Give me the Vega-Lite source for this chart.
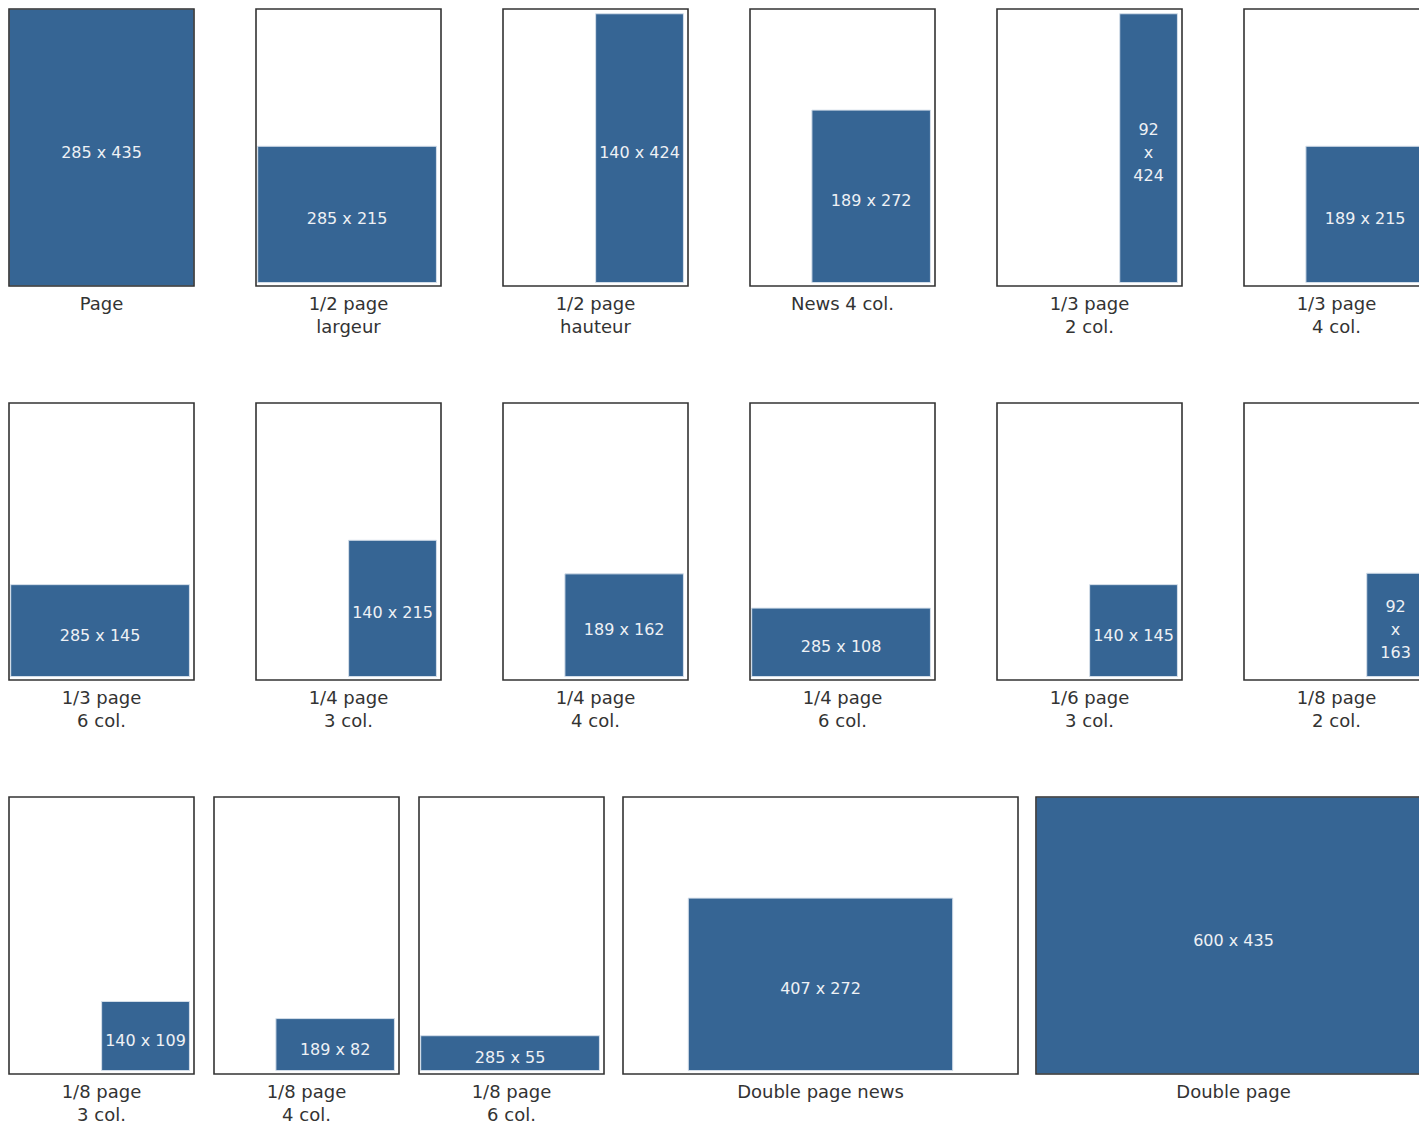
{
  "$schema": "https://vega.github.io/schema/vega-lite/v6.json",
  "background": "white",
  "padding": {"left": 8, "top": 8, "right": 0, "bottom": 0},
  "config": {"view": {"stroke": null}, "font": "DejaVu Sans", "text": {"lineBreak": "\n"}, "headerFacet": {"labels": false, "title": null, "labelPadding": 0, "titlePadding": 0, "labelFontSize": 0}},
  "datasets": {
    "ads": [
      {"i": 1, "grp": "A", "caption": "Page", "w": 285, "h": 435, "label": "285 x 435"},
      {"i": 2, "grp": "A", "caption": "1/2 page\nlargeur", "w": 285, "h": 215, "label": "285 x 215"},
      {"i": 3, "grp": "A", "caption": "1/2 page\nhauteur", "w": 140, "h": 424, "label": "140 x 424"},
      {"i": 4, "grp": "A", "caption": "News 4 col.", "w": 189, "h": 272, "label": "189 x 272"},
      {"i": 5, "grp": "A", "caption": "1/3 page\n2 col.", "w": 92, "h": 424, "label": "92\nx\n424"},
      {"i": 6, "grp": "A", "caption": "1/3 page\n4 col.", "w": 189, "h": 215, "label": "189 x 215"},
      {"i": 7, "grp": "A", "caption": "1/3 page\n6 col.", "w": 285, "h": 145, "label": "285 x 145"},
      {"i": 8, "grp": "A", "caption": "1/4 page\n3 col.", "w": 140, "h": 215, "label": "140 x 215"},
      {"i": 9, "grp": "A", "caption": "1/4 page\n4 col.", "w": 189, "h": 162, "label": "189 x 162"},
      {"i": 10, "grp": "A", "caption": "1/4 page\n6 col.", "w": 285, "h": 108, "label": "285 x 108"},
      {"i": 11, "grp": "A", "caption": "1/6 page\n3 col.", "w": 140, "h": 145, "label": "140 x 145"},
      {"i": 12, "grp": "A", "caption": "1/8 page\n2 col.", "w": 92, "h": 163, "label": "92\nx\n163"},
      {"i": 13, "grp": "B", "caption": "1/8 page\n3 col.", "w": 140, "h": 109, "label": "140 x 109"},
      {"i": 14, "grp": "B", "caption": "1/8 page\n4 col.", "w": 189, "h": 82, "label": "189 x 82"},
      {"i": 15, "grp": "B", "caption": "1/8 page\n6 col.", "w": 285, "h": 55, "label": "285 x 55"},
      {"i": 16, "grp": "C", "caption": "Double page news", "w": 407, "h": 272, "label": "407 x 272"},
      {"i": 17, "grp": "C", "caption": "Double page", "w": 600, "h": 435, "label": "600 x 435"}
    ]
  },
  "spacing": 63,
  "vconcat": [
    {
      "data": {"name": "ads"},
      "transform": [
        {"filter": "datum.grp == 'A'"},
        {"calculate": "datum.w >= 285 && datum.h >= 435", "as": "full"},
        {"calculate": "datum.full ? 0 : 287.7 - datum.w", "as": "x0"},
        {"calculate": "datum.full ? 295 : 287.7", "as": "x1"},
        {"calculate": "datum.full ? 0 : 5.5", "as": "y0"},
        {"calculate": "datum.full ? 437 : 5.5 + datum.h", "as": "y1"},
        {"calculate": "(datum.x0 + datum.x1) / 2", "as": "cx"},
        {"calculate": "(datum.y0 + datum.y1) / 2 + (length(split(datum.label, '\\n')) - 1) * 18.1", "as": "cy"}
      ],
      "facet": {"field": "i", "type": "ordinal", "title": null, "header": {"labels": false, "labelExpr": "''", "labelFontSize": 0, "labelPadding": 0, "title": null, "titlePadding": 0}},
      "columns": 6,
      "spacing": {"row": 63, "column": 60},
      "spec": {
        "width": 185,
        "height": 330,
        "layer": [
          {
            "mark": {"type": "rect", "fill": "#366594", "stroke": "#d5dfea", "strokeWidth": 1},
            "encoding": {
              "x": {"field": "x0", "type": "quantitative", "scale": {"domain": [0, 295], "nice": false, "zero": false}, "axis": null},
              "x2": {"field": "x1"},
              "y": {"field": "y0", "type": "quantitative", "scale": {"domain": [-83.5, 437], "nice": false, "zero": false}, "axis": null},
              "y2": {"field": "y1"}
            }
          },
          {
            "mark": {"type": "text", "color": "#eef1f5", "fontSize": 16, "baseline": "middle", "align": "center", "dy": 5, "lineHeight": 23},
            "encoding": {
              "x": {"field": "cx", "type": "quantitative", "scale": {"domain": [0, 295], "nice": false, "zero": false}, "axis": null},
              "y": {"field": "cy", "type": "quantitative", "scale": {"domain": [-83.5, 437], "nice": false, "zero": false}, "axis": null},
              "text": {"field": "label"}
            }
          },
          {
            "mark": {"type": "rect", "fill": "transparent", "stroke": "#333333", "strokeWidth": 1.6},
            "encoding": {
              "x": {"datum": 0, "type": "quantitative", "scale": {"domain": [0, 295], "nice": false, "zero": false}, "axis": null},
              "x2": {"datum": 295},
              "y": {"datum": 0, "type": "quantitative", "scale": {"domain": [-83.5, 437], "nice": false, "zero": false}, "axis": null},
              "y2": {"datum": 437}
            }
          },
          {
            "mark": {"type": "text", "color": "#333333", "fontSize": 18, "baseline": "top", "align": "center", "lineHeight": 23},
            "encoding": {
              "x": {"datum": 147.5, "type": "quantitative", "scale": {"domain": [0, 295], "nice": false, "zero": false}, "axis": null},
              "y": {"datum": -15.5, "type": "quantitative", "scale": {"domain": [-83.5, 437], "nice": false, "zero": false}, "axis": null},
              "text": {"field": "caption"}
            }
          }
        ]
      }
    },
    {
      "spacing": 17,
      "hconcat": [
        {
          "data": {"name": "ads"},
          "transform": [
            {"filter": "datum.grp == 'B'"},
            {"calculate": "datum.w >= 285 && datum.h >= 435", "as": "full"},
            {"calculate": "datum.full ? 0 : 287.7 - datum.w", "as": "x0"},
            {"calculate": "datum.full ? 295 : 287.7", "as": "x1"},
            {"calculate": "datum.full ? 0 : 5.5", "as": "y0"},
            {"calculate": "datum.full ? 437 : 5.5 + datum.h", "as": "y1"},
            {"calculate": "(datum.x0 + datum.x1) / 2", "as": "cx"},
            {"calculate": "(datum.y0 + datum.y1) / 2 + (length(split(datum.label, '\\n')) - 1) * 18.1", "as": "cy"}
          ],
          "facet": {"field": "i", "type": "ordinal", "title": null, "header": {"labels": false, "labelExpr": "''", "labelFontSize": 0, "labelPadding": 0, "title": null, "titlePadding": 0}},
          "columns": 3,
          "spacing": {"row": 63, "column": 18},
          "spec": {
            "width": 185,
            "height": 330,
            "layer": [
              {
                "mark": {"type": "rect", "fill": "#366594", "stroke": "#d5dfea", "strokeWidth": 1},
                "encoding": {
                  "x": {"field": "x0", "type": "quantitative", "scale": {"domain": [0, 295], "nice": false, "zero": false}, "axis": null},
                  "x2": {"field": "x1"},
                  "y": {"field": "y0", "type": "quantitative", "scale": {"domain": [-83.5, 437], "nice": false, "zero": false}, "axis": null},
                  "y2": {"field": "y1"}
                }
              },
              {
                "mark": {"type": "text", "color": "#eef1f5", "fontSize": 16, "baseline": "middle", "align": "center", "dy": 5, "lineHeight": 23},
                "encoding": {
                  "x": {"field": "cx", "type": "quantitative", "scale": {"domain": [0, 295], "nice": false, "zero": false}, "axis": null},
                  "y": {"field": "cy", "type": "quantitative", "scale": {"domain": [-83.5, 437], "nice": false, "zero": false}, "axis": null},
                  "text": {"field": "label"}
                }
              },
              {
                "mark": {"type": "rect", "fill": "transparent", "stroke": "#333333", "strokeWidth": 1.6},
                "encoding": {
                  "x": {"datum": 0, "type": "quantitative", "scale": {"domain": [0, 295], "nice": false, "zero": false}, "axis": null},
                  "x2": {"datum": 295},
                  "y": {"datum": 0, "type": "quantitative", "scale": {"domain": [-83.5, 437], "nice": false, "zero": false}, "axis": null},
                  "y2": {"datum": 437}
                }
              },
              {
                "mark": {"type": "text", "color": "#333333", "fontSize": 18, "baseline": "top", "align": "center", "lineHeight": 23},
                "encoding": {
                  "x": {"datum": 147.5, "type": "quantitative", "scale": {"domain": [0, 295], "nice": false, "zero": false}, "axis": null},
                  "y": {"datum": -15.5, "type": "quantitative", "scale": {"domain": [-83.5, 437], "nice": false, "zero": false}, "axis": null},
                  "text": {"field": "caption"}
                }
              }
            ]
          }
        },
        {
          "data": {"name": "ads"},
          "transform": [
            {"filter": "datum.grp == 'C'"},
            {"calculate": "datum.w >= 600 && datum.h >= 435", "as": "full"},
            {"calculate": "datum.full ? 0 : (608 - datum.w) / 2", "as": "x0"},
            {"calculate": "datum.full ? 608 : datum.x0 + datum.w", "as": "x1"},
            {"calculate": "datum.full ? 0 : 5.5", "as": "y0"},
            {"calculate": "datum.full ? 437 : 5.5 + datum.h", "as": "y1"},
            {"calculate": "(datum.x0 + datum.x1) / 2", "as": "cx"},
            {"calculate": "(datum.y0 + datum.y1) / 2", "as": "cy"}
          ],
          "facet": {"field": "i", "type": "ordinal", "title": null, "header": {"labels": false, "labelExpr": "''", "labelFontSize": 0, "labelPadding": 0, "title": null, "titlePadding": 0}},
          "columns": 2,
          "spacing": {"row": 63, "column": 16},
          "spec": {
            "width": 395,
            "height": 330,
            "layer": [
              {
                "mark": {"type": "rect", "fill": "#366594", "stroke": "#d5dfea", "strokeWidth": 1},
                "encoding": {
                  "x": {"field": "x0", "type": "quantitative", "scale": {"domain": [0, 608], "nice": false, "zero": false}, "axis": null},
                  "x2": {"field": "x1"},
                  "y": {"field": "y0", "type": "quantitative", "scale": {"domain": [-83.5, 437], "nice": false, "zero": false}, "axis": null},
                  "y2": {"field": "y1"}
                }
              },
              {
                "mark": {"type": "text", "color": "#eef1f5", "fontSize": 16, "baseline": "middle", "align": "center", "dy": 5, "lineHeight": 23},
                "encoding": {
                  "x": {"field": "cx", "type": "quantitative", "scale": {"domain": [0, 608], "nice": false, "zero": false}, "axis": null},
                  "y": {"field": "cy", "type": "quantitative", "scale": {"domain": [-83.5, 437], "nice": false, "zero": false}, "axis": null},
                  "text": {"field": "label"}
                }
              },
              {
                "mark": {"type": "rect", "fill": "transparent", "stroke": "#333333", "strokeWidth": 1.6},
                "encoding": {
                  "x": {"datum": 0, "type": "quantitative", "scale": {"domain": [0, 608], "nice": false, "zero": false}, "axis": null},
                  "x2": {"datum": 608},
                  "y": {"datum": 0, "type": "quantitative", "scale": {"domain": [-83.5, 437], "nice": false, "zero": false}, "axis": null},
                  "y2": {"datum": 437}
                }
              },
              {
                "mark": {"type": "text", "color": "#333333", "fontSize": 18, "baseline": "top", "align": "center", "lineHeight": 23},
                "encoding": {
                  "x": {"datum": 304, "type": "quantitative", "scale": {"domain": [0, 608], "nice": false, "zero": false}, "axis": null},
                  "y": {"datum": -15.5, "type": "quantitative", "scale": {"domain": [-83.5, 437], "nice": false, "zero": false}, "axis": null},
                  "text": {"field": "caption"}
                }
              }
            ]
          }
        }
      ]
    }
  ]
}
